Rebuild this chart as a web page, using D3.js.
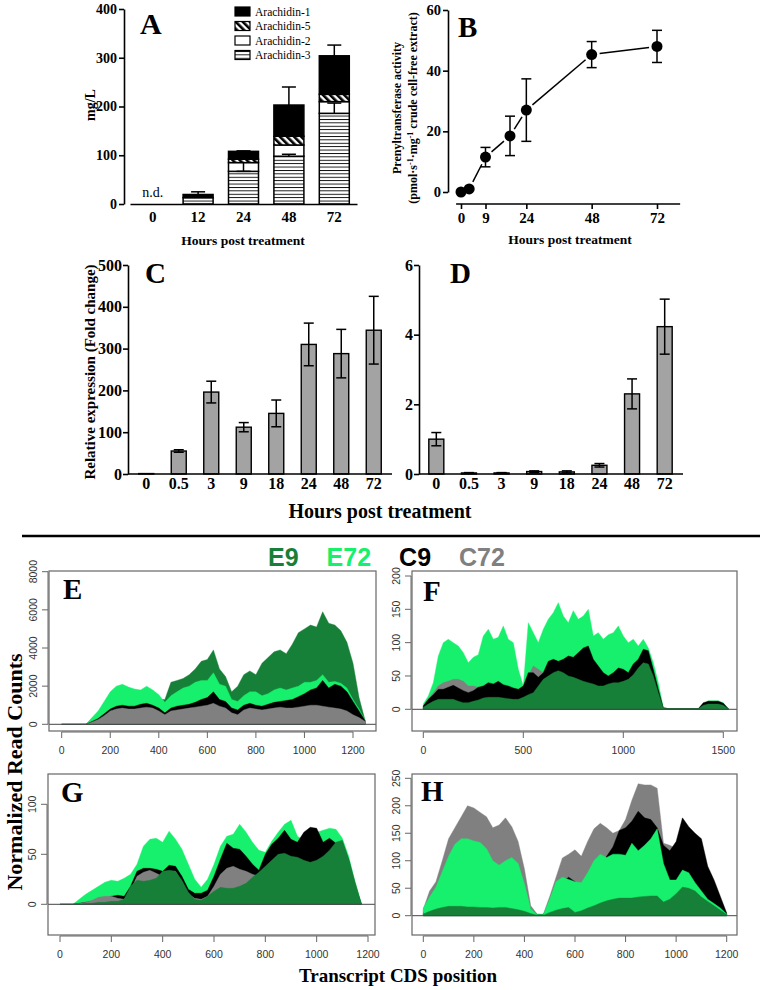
<!DOCTYPE html>
<html><head><meta charset="utf-8">
<script src="https://cdn.jsdelivr.net/npm/d3@7"></script>
<style>body{margin:0;background:#fff}</style></head>
<body>
<svg id="chart" width="760" height="990"></svg>
<script>
// ---------------- DATA ----------------
// Panel A: arachidin production (mg/L)
const aHours = ["0","12","24","48","72"];
const ara3 = [0,13,67,98,186];
const ara2 = [0,0,18,23,24];
const ara5 = [0,0,7,18,15];
const ara1 = [0,6.5,16,64,79];
const aErrTop = [null,25,109,240,326];
const aInnerBase = [null,null,85,98,186];
const aInnerCap = [null,null,67,102,207];
const aLegend = ["Arachidin-1","Arachidin-5","Arachidin-2","Arachidin-3"];

// Panel B: prenyltransferase activity
const bHours = [0,3,9,18,24,48,72];
const bAct = [0,1,11.5,18.5,27,45.3,48];
const bErr = [0,0,3.2,6.5,10.3,4.3,5.3];
const bXTicks = [0,9,24,48,72];
const bYTicks = [0,20,40,60];

// Panel C & D: relative expression
const cdHours = ["0","0.5","3","9","18","24","48","72"];
const cVal = [1,55,196,112,145,310,288,344];
const cErr = [0,3,26,11,32,51,58,81];
const cYTicks = [0,100,200,300,400,500];
const dVal = [1.0,0.03,0.03,0.07,0.06,0.25,2.3,4.23];
const dErr = [0.19,0.01,0.01,0.02,0.03,0.05,0.43,0.79];
const dYTicks = [0,2,4,6];

// Panels E-H: normalized read counts along transcript CDS
const seriesNames = ["E9","E72","C9","C72"];
const ePos = [0,25,50,75,100,125,150,175,200,225,250,275,300,325,350,375,400,425,450,475,500,525,550,575,600,625,650,675,700,725,750,775,800,825,850,875,900,925,950,975,1000,1025,1050,1075,1100,1125,1150,1175,1200,1225,1250];
const eE9  = [0,0,0,0,0,300,550,900,1300,1600,1700,1700,1600,1600,1700,1600,1300,1300,2200,2300,2400,2600,2900,3300,3400,3900,2900,2500,1700,2000,2600,2800,2600,3200,3500,3800,3900,3700,4200,4800,5000,5200,5100,5900,5300,5200,4900,4300,3200,1400,200];
const eE72 = [0,0,0,0,0,350,700,1200,1700,2000,2100,1950,1850,1800,2000,1800,1550,1150,1500,1700,1900,2000,2200,2300,2300,2700,2100,2000,1300,1200,1500,1700,1700,1500,1600,1800,1900,1800,1900,2000,2200,2200,2300,2600,2200,2250,2150,1900,1300,800,200];
const eC9  = [0,0,0,0,0,150,300,550,800,950,1000,950,950,1050,1100,1000,850,600,850,950,1000,1050,1150,1300,1400,1700,1300,1200,850,750,1000,1100,1000,950,1050,1150,1200,1250,1300,1450,1600,1800,1900,2300,1900,2100,2000,1700,1200,700,180];
const eC72 = [0,0,0,0,0,120,250,450,700,800,850,800,800,850,900,850,700,500,700,750,800,850,900,950,1000,1100,950,850,600,500,750,850,800,750,800,850,900,850,850,900,950,1000,1000,950,900,850,800,700,500,350,150];
const eXTicks = [0,200,400,600,800,1000,1200];
const eYTicks = [0,2000,4000,6000,8000];

const fPos = [0,25,50,75,100,125,150,175,200,225,250,275,300,325,350,375,400,425,450,475,500,525,550,575,600,625,650,675,700,725,750,775,800,825,850,875,900,925,950,975,1000,1025,1050,1075,1100,1125,1150,1175,1200,1225,1250,1275,1300,1325,1350,1375,1400,1425,1450,1475,1500,1525];
const fE72 = [8,20,40,80,100,105,100,95,85,70,78,82,110,120,105,108,125,105,100,60,35,130,115,100,120,135,145,160,140,130,148,135,140,150,110,115,105,112,115,125,110,100,105,95,105,92,70,40,3,1,1,1,1,1,1,1,8,13,13,13,10,1];
const fC72 = [5,15,25,35,40,42,45,45,42,35,35,33,32,30,32,30,30,30,30,30,32,50,65,60,55,55,58,60,60,58,55,55,55,52,50,48,45,45,45,45,48,50,52,55,60,55,40,20,2,1,1,1,1,1,1,1,8,10,10,10,8,1];
const fC9  = [5,15,22,30,30,33,36,32,28,25,28,33,35,40,38,42,37,35,32,30,35,55,55,48,55,72,75,72,75,80,78,85,92,95,75,65,55,50,55,62,60,55,68,75,90,88,60,30,2,1,1,1,1,1,1,1,10,12,12,12,9,1];
const fE9  = [3,8,12,15,15,15,15,12,10,10,12,14,17,18,18,18,17,16,15,15,18,22,25,35,45,50,55,58,55,50,48,45,42,40,38,35,35,38,40,40,42,45,52,62,70,68,50,25,2,1,1,1,1,1,1,1,6,8,8,8,6,1];
const fXTicks = [0,500,1000,1500];
const fYTicks = [0,50,100,150,200];

const gPos = [0,25,50,75,100,125,150,175,200,225,250,275,300,325,350,375,400,425,450,475,500,525,550,575,600,625,650,675,700,725,750,775,800,825,850,875,900,925,950,975,1000,1025,1050,1075,1100,1125,1150,1175];
const gE72 = [0,0,0,5,10,14,18,22,24,23,26,30,40,58,65,66,62,73,65,55,40,25,17,25,40,58,68,70,80,72,62,54,52,63,72,80,84,68,64,70,72,74,76,75,66,48,22,0];
const gC9  = [0,0,0,1,2,3,4,5,8,9,8,18,33,36,36,35,33,39,38,28,15,11,11,14,28,45,61,56,55,48,40,34,50,60,66,74,65,62,72,77,76,62,66,61,62,44,18,0];
const gC72 = [0,0,0,1,2,4,7,8,8,6,5,14,28,32,34,31,28,33,33,22,10,6,5,8,18,30,36,38,35,33,30,28,30,32,34,36,36,36,36,36,36,36,36,36,34,25,12,0];
const gE9  = [0,0,0,0,1,1,2,2,3,3,5,18,24,23,24,26,33,34,33,24,12,5,4,8,13,17,16,16,18,21,27,32,38,44,50,51,48,47,44,42,44,48,54,62,64,45,22,0];
const gXTicks = [0,200,400,600,800,1000,1200];
const gYTicks = [0,50,100];

const hPos = [0,25,50,75,100,125,150,175,200,225,250,275,300,325,350,375,400,425,450,475,500,525,550,575,600,625,650,675,700,725,750,775,800,825,850,875,900,925,950,975,1000,1025,1050,1075,1100,1125,1150,1175,1200];
const hC72 = [12,45,62,100,140,160,180,200,196,188,180,160,165,178,162,135,85,18,3,3,35,70,105,112,120,108,135,158,168,160,150,155,175,210,240,238,238,232,132,128,122,115,100,90,80,60,45,25,3];
const hC9  = [5,20,35,55,80,95,100,100,95,95,90,70,75,80,75,65,40,10,2,2,20,45,62,70,62,55,68,80,95,108,125,155,160,172,190,178,175,160,128,118,135,178,162,150,140,90,65,35,5];
const hE72 = [14,34,52,80,108,130,140,140,136,133,122,100,92,100,106,95,58,12,2,2,30,62,70,66,62,60,78,100,112,106,112,112,110,132,118,128,140,158,95,65,65,83,78,60,45,30,22,14,3];
const hE9  = [3,8,12,15,17,17,17,16,16,15,15,14,15,15,13,11,8,4,1,1,6,10,13,15,6,9,14,18,23,27,30,32,32,32,34,35,36,36,25,30,40,52,50,45,34,26,18,10,2];
const hXTicks = [0,200,400,600,800,1000,1200];
const hYTicks = [0,50,100,150,200,250];

// ---------------- DRAWING ----------------
const svg = d3.select("#chart");
const SERIF = "'Liberation Serif','Times New Roman',Times,serif";
const SANS = "'Liberation Sans',Arial,Helvetica,sans-serif";
const colors = {E9:"#178038", E72:"#16f06c", C9:"#000000", C72:"#808080"};

function styleAxis(g, fs){
  g.selectAll("path.domain").attr("stroke","#000").attr("stroke-width",1.6);
  g.selectAll(".tick line").attr("stroke","#000").attr("stroke-width",1.6);
  g.selectAll(".tick text").attr("font-family",SERIF).attr("font-weight","bold")
    .attr("font-size",fs).attr("fill","#000");
}
function label(txt,x,y,fs,opts={}){
  const t = svg.append("text").attr("x",x).attr("y",y).text(txt)
    .attr("font-family",opts.family||SERIF).attr("font-weight",opts.weight||"bold")
    .attr("font-size",fs).attr("fill",opts.fill||"#000")
    .attr("text-anchor",opts.anchor||"start");
  if(opts.rotate) t.attr("transform",`rotate(${opts.rotate},${x},${y})`);
  return t;
}

// patterns
const defs = svg.append("defs");
const ph = defs.append("pattern").attr("id","hl").attr("patternUnits","userSpaceOnUse").attr("width",6).attr("height",3.4);
ph.append("rect").attr("width",6).attr("height",3.4).attr("fill","#fff");
ph.append("rect").attr("y",0).attr("width",6).attr("height",0.9).attr("fill","#000");
const pd = defs.append("pattern").attr("id","dg").attr("patternUnits","userSpaceOnUse").attr("width",5).attr("height",5).attr("patternTransform","rotate(-45)");
pd.append("rect").attr("width",5).attr("height",5).attr("fill","#fff");
pd.append("rect").attr("width",2.6).attr("height",5).attr("fill","#000");
const fills = {a1:"#000", a5:"url(#dg)", a2:"#fff", a3:"url(#hl)"};

// ===== Panel A =====
(function(){
  const x = d3.scaleBand().domain(aHours).range([130,357]);
  const y = d3.scaleLinear().domain([0,400]).range([204,9]);
  const bw = 30;
  const rows = aHours.map((h,i)=>({h, a3:ara3[i], a2:ara2[i], a5:ara5[i], a1:ara1[i]}));
  const stack = d3.stack().keys(["a3","a2","a5","a1"])(rows);
  const g = svg.append("g");
  rows.forEach((r,i)=>{
    if(aErrTop[i]==null) return;
    const cx = x(r.h)+x.bandwidth()/2;
    const top = r.a3+r.a2+r.a5+r.a1;
    g.append("line").attr("x1",cx).attr("x2",cx).attr("y1",y(top)).attr("y2",y(aErrTop[i])).attr("stroke","#000").attr("stroke-width",1.5);
    g.append("line").attr("x1",cx-7).attr("x2",cx+7).attr("y1",y(aErrTop[i])).attr("y2",y(aErrTop[i])).attr("stroke","#000").attr("stroke-width",1.5);
  });
  stack.forEach(layer=>{
    g.selectAll(null).data(layer.filter(d=>d[1]-d[0]>0)).join("rect")
      .attr("x",d=>x(d.data.h)+(x.bandwidth()-bw)/2).attr("width",bw)
      .attr("y",d=>y(d[1])).attr("height",d=>y(d[0])-y(d[1]))
      .attr("fill",fills[layer.key]).attr("stroke","#000").attr("stroke-width",1.5);
  });
  rows.forEach((r,i)=>{
    if(aInnerCap[i]==null) return;
    const cx = x(r.h)+x.bandwidth()/2;
    g.append("line").attr("x1",cx).attr("x2",cx).attr("y1",y(aInnerBase[i])).attr("y2",y(aInnerCap[i])).attr("stroke","#000").attr("stroke-width",1.5);
    g.append("line").attr("x1",cx-7).attr("x2",cx+7).attr("y1",y(aInnerCap[i])).attr("y2",y(aInnerCap[i])).attr("stroke","#000").attr("stroke-width",1.5);
  });
  const ya = svg.append("g").attr("transform","translate(124,0)")
    .call(d3.axisLeft(y).tickValues([0,100,200,300,400]).tickSize(5).tickSizeOuter(0).tickPadding(2));
  styleAxis(ya,14);
  const xa = svg.append("g").attr("transform","translate(0,204)")
    .call(d3.axisBottom(x).tickSize(0).tickSizeOuter(0).tickPadding(7));
  styleAxis(xa,15);
  label("n.d.",x("0")+x.bandwidth()/2,197,14,{weight:"normal",anchor:"middle"});
  label("A",140,34,30);
  label("mg/L",95,105,14,{rotate:-90,anchor:"middle"});
  label("Hours post treatment",243,245,13.5,{anchor:"middle"});
  const lk = ["a1","a5","a2","a3"];
  aLegend.forEach((t,i)=>{
    const ly = 7+i*14.5;
    svg.append("rect").attr("x",235).attr("y",ly).attr("width",15).attr("height",9)
      .attr("fill",fills[lk[i]]).attr("stroke","#000").attr("stroke-width",1.2);
    label(t,255,ly+8.5,11.5,{weight:"normal"});
  });
})();

// ===== Panel B =====
(function(){
  const x = d3.scaleLinear().domain([0,72]).range([461,657]);
  const y = d3.scaleLinear().domain([0,60]).range([192,10]);
  const ya = svg.append("g").attr("transform","translate(448,0)")
    .call(d3.axisLeft(y).tickValues(bYTicks).tickSize(5).tickSizeOuter(0).tickPadding(2));
  styleAxis(ya,14.5);
  const xa = svg.append("g").attr("transform","translate(0,204)")
    .call(d3.axisBottom(x).tickValues(bXTicks).tickSize(5).tickSizeOuter(0).tickPadding(3));
  styleAxis(xa,15);
  xa.select("path.domain").remove();
  svg.append("line").attr("x1",x(-1.8)).attr("x2",x(80.5)).attr("y1",204).attr("y2",204).attr("stroke","#000").attr("stroke-width",1.6);
  const pts = bHours.map((h,i)=>({px:x(h),py:y(bAct[i]),i}));
  for(let k=0;k<pts.length-1;k++){
    const p=pts[k], q=pts[k+1];
    const dx=q.px-p.px, dy=q.py-p.py, L=Math.hypot(dx,dy), gap=8;
    if(L<=2*gap) continue;
    svg.append("line").attr("x1",p.px+dx/L*gap).attr("y1",p.py+dy/L*gap)
      .attr("x2",q.px-dx/L*gap).attr("y2",q.py-dy/L*gap).attr("stroke","#000").attr("stroke-width",1.5);
  }
  bHours.forEach((h,i)=>{
    if(bErr[i]<=0) return;
    const cx=x(h);
    svg.append("line").attr("x1",cx).attr("x2",cx).attr("y1",y(bAct[i]-bErr[i])).attr("y2",y(bAct[i]+bErr[i])).attr("stroke","#000").attr("stroke-width",1.5);
    [bAct[i]-bErr[i],bAct[i]+bErr[i]].forEach(v=>svg.append("line").attr("x1",cx-5).attr("x2",cx+5).attr("y1",y(v)).attr("y2",y(v)).attr("stroke","#000").attr("stroke-width",1.5));
  });
  svg.append("g").selectAll("circle").data(pts).join("circle")
    .attr("cx",d=>d.px).attr("cy",d=>d.py).attr("r",5.5).attr("fill","#000");
  label("B",458,37,29);
  label("Prenyltransferase activity",401,108,12,{rotate:-90,anchor:"middle"});
  const t2 = svg.append("text").attr("transform","translate(417,108) rotate(-90)")
    .attr("font-family",SERIF).attr("font-weight","bold").attr("font-size",12).attr("text-anchor","middle");
  t2.append("tspan").text("(pmol·s");
  t2.append("tspan").text("-1").attr("baseline-shift","super").attr("font-size",8);
  t2.append("tspan").text("·mg");
  t2.append("tspan").text("-1").attr("baseline-shift","super").attr("font-size",8);
  t2.append("tspan").text(" crude cell-free extract)");
  label("Hours post treatment",570,244,13.5,{anchor:"middle"});
})();

// ===== Panels C & D =====
function barPanel(vals, errs, yDom, yTicks, xr, axisX, letter, lx){
  const x = d3.scaleBand().domain(cdHours).range(xr);
  const y = d3.scaleLinear().domain(yDom).range([474,265]);
  const bw = 15;
  svg.append("g").selectAll("rect").data(cdHours).join("rect")
    .attr("x",h=>x(h)+(x.bandwidth()-bw)/2).attr("width",bw)
    .attr("y",(h,i)=>y(vals[i])).attr("height",(h,i)=>y(0)-y(vals[i]))
    .attr("fill","#a3a3a3").attr("stroke","#000").attr("stroke-width",1.4);
  cdHours.forEach((h,i)=>{
    const cx = x(h)+x.bandwidth()/2;
    if(errs[i]>0){
      svg.append("line").attr("x1",cx).attr("x2",cx).attr("y1",y(vals[i]-errs[i])).attr("y2",y(vals[i]+errs[i])).attr("stroke","#000").attr("stroke-width",1.5);
      [vals[i]-errs[i],vals[i]+errs[i]].forEach(v=>svg.append("line").attr("x1",cx-5).attr("x2",cx+5).attr("y1",y(v)).attr("y2",y(v)).attr("stroke","#000").attr("stroke-width",1.5));
    }
  });
  const ya = svg.append("g").attr("transform",`translate(${axisX},0)`)
    .call(d3.axisLeft(y).tickValues(yTicks).tickFormat(d3.format("d")).tickSize(5).tickSizeOuter(0).tickPadding(1));
  styleAxis(ya,16);
  const xa = svg.append("g").attr("transform","translate(0,474)")
    .call(d3.axisBottom(x).tickSize(0).tickSizeOuter(0).tickPadding(4));
  styleAxis(xa,16);
  xa.select("path.domain").remove();
  svg.append("line").attr("x1",axisX).attr("x2",xr[1]+2).attr("y1",474).attr("y2",474).attr("stroke","#000").attr("stroke-width",1.6);
  label(letter,lx,283,29);
}
barPanel(cVal,cErr,[0,500],cYTicks,[130,390],128,"C",145);
barPanel(dVal,dErr,[0,6],dYTicks,[420,681],419,"D",450);
label("Relative expression (Fold change)",95,372,15,{rotate:-90,anchor:"middle"});
label("Hours post treatment",380,518,20,{anchor:"middle"});

// separator & legend
svg.append("line").attr("x1",22).attr("x2",760).attr("y1",536).attr("y2",536).attr("stroke","#000").attr("stroke-width",2.5);
(function(){
  let lx = 268;
  seriesNames.forEach(n=>{
    const t = svg.append("text").attr("x",lx).attr("y",566).text(n)
      .attr("font-family",SANS).attr("font-weight","bold").attr("font-size",25)
      .attr("fill", colors[n]);
    lx += t.node().getComputedTextLength()+28;
  });
})();

// ===== Panels E-H =====
const panels = [
  {letter:"E", pos:ePos, data:{E9:eE9,E72:eE72,C9:eC9,C72:eC72}, order:["E9","E72","C9","C72"],
   box:[49,571,376,731], xd:[0,1200], xr:[61.7,353], yd:[0,8000], yr:[724.3,571.7], xt:eXTicks, yt:eYTicks, lab:[63,599]},
  {letter:"F", pos:fPos, data:{E9:fE9,E72:fE72,C9:fC9,C72:fC72}, order:["E72","C72","C9","E9"],
   box:[412,571,737,731], xd:[0,1500], xr:[423.3,723.3], yd:[0,200], yr:[709.3,576], xt:fXTicks, yt:fYTicks, lab:[423,601]},
  {letter:"G", pos:gPos, data:{E9:gE9,E72:gE72,C9:gC9,C72:gC72}, order:["E72","C9","C72","E9"],
   box:[48,774,375,935], xd:[0,1200], xr:[60,368], yd:[0,100], yr:[904.3,804.3], xt:gXTicks, yt:gYTicks, lab:[61,802]},
  {letter:"H", pos:hPos, data:{E9:hE9,E72:hE72,C9:hC9,C72:hC72}, order:["C72","C9","E72","E9"],
   box:[412,774,737,935], xd:[0,1200], xr:[423.3,726.7], yd:[0,250], yr:[915.7,778.3], xt:hXTicks, yt:hYTicks, lab:[421,801]}
];
panels.forEach(p=>{
  const [bx0,by0,bx1,by1] = p.box;
  const x = d3.scaleLinear().domain(p.xd).range(p.xr);
  const y = d3.scaleLinear().domain(p.yd).range(p.yr);
  const g = svg.append("g");
  const area = d3.area().x(d=>x(d[0])).y0(y(0)).y1(d=>y(d[1]));
  p.order.forEach(k=>{
    const pts = p.pos.map((v,i)=>[v,p.data[k][i]]);
    g.append("path").attr("d",area(pts)).attr("fill",colors[k]).attr("stroke",colors[k]).attr("stroke-width",0.4);
  });
  g.append("line").attr("x1",bx0).attr("x2",bx1).attr("y1",y(0)).attr("y2",y(0)).attr("stroke","#444").attr("stroke-width",1);
  g.append("rect").attr("x",bx0).attr("y",by0).attr("width",bx1-bx0).attr("height",by1-by0)
    .attr("fill","none").attr("stroke","#666").attr("stroke-width",1.2);
  g.append("line").attr("x1",x(p.xt[0])).attr("x2",x(p.xt[p.xt.length-1])).attr("y1",by1+1).attr("y2",by1+1).attr("stroke","#666").attr("stroke-width",1);
  p.xt.forEach(t=>{
    g.append("line").attr("x1",x(t)).attr("x2",x(t)).attr("y1",by1+1).attr("y2",by1+7).attr("stroke","#666").attr("stroke-width",1);
    g.append("text").attr("x",x(t)).attr("y",by1+23).text(t).attr("text-anchor","middle")
      .attr("font-family",SANS).attr("font-size",10.5).attr("fill","#333");
  });
  g.append("line").attr("x1",bx0-1).attr("x2",bx0-1).attr("y1",y(p.yt[0])).attr("y2",y(p.yt[p.yt.length-1])).attr("stroke","#666").attr("stroke-width",1);
  p.yt.forEach(t=>{
    g.append("line").attr("x1",bx0-7).attr("x2",bx0-1).attr("y1",y(t)).attr("y2",y(t)).attr("stroke","#666").attr("stroke-width",1);
    g.append("text").attr("transform",`translate(${bx0-12},${y(t)}) rotate(-90)`).text(t)
      .attr("text-anchor","middle").attr("font-family",SANS).attr("font-size",10.5).attr("fill","#333");
  });
  label(p.letter,p.lab[0],p.lab[1],29);
});
label("Normalized Read Counts",22,772,22,{rotate:-90,anchor:"middle"});
label("Transcript CDS position",398,982,19,{anchor:"middle"});
</script>
</body></html>
